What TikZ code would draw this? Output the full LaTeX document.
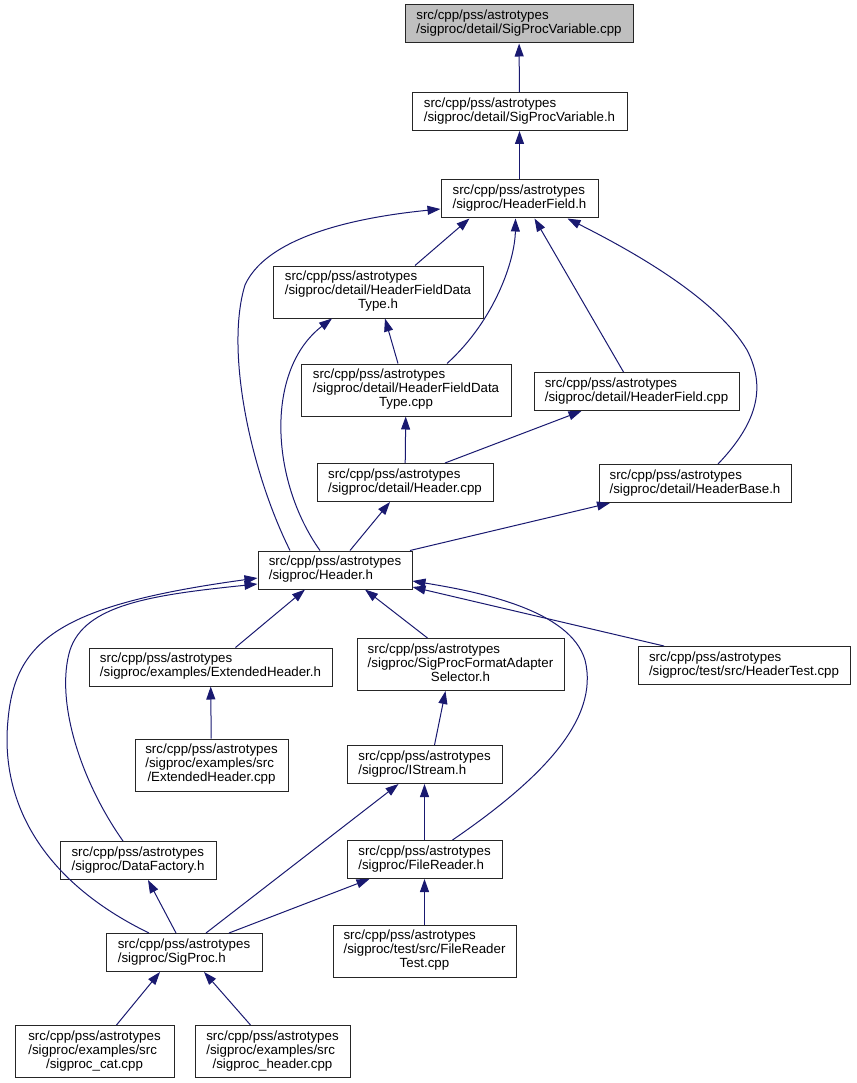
\documentclass[tikz,border=0pt]{standalone}
\usepackage{fontspec}
\setmainfont{Liberation Sans}
\usetikzlibrary{arrows.meta}
\definecolor{edgeblue}{HTML}{191970}
\definecolor{rootgray}{HTML}{BFBFBF}
\newcommand{\fpath}[1]{\begin{tabular}{@{}l@{}}#1\end{tabular}}
\newcommand{\lastln}[1]{\multicolumn{1}{@{}c@{}}{#1}}

\begin{document}
\begin{tikzpicture}[x=1pt,y=-1pt,
  filebox/.style={draw=black!85,line width=1pt,fill=white,inner sep=0pt,
    minimum height=38,font=\fontsize{13.3}{14}\selectfont},
  tall/.style={minimum height=52},
  incl/.style={draw=edgeblue,line width=1pt,-{Triangle[length=13pt,width=9pt]}}]
  \useasboundingbox (0,0) rectangle (856,1083);

  \node[filebox,fill=rootgray,minimum width=228] (n0) at (519,24)
    {\fpath{src/cpp/pss/astrotypes\\/sigproc/detail/SigProcVariable.cpp}};
  \node[filebox,minimum width=215] (n1) at (519.5,111.5)
    {\fpath{src/cpp/pss/astrotypes\\/sigproc/detail/SigProcVariable.h}};
  \node[filebox,minimum width=157] (n2) at (519.5,199)
    {\fpath{src/cpp/pss/astrotypes\\/sigproc/HeaderField.h}};
  \node[filebox,tall,minimum width=210] (n3) at (378,292)
    {\fpath{src/cpp/pss/astrotypes\\/sigproc/detail/HeaderFieldData\\\lastln{Type.h}}};
  \node[filebox,tall,minimum width=210] (n4) at (406,390)
    {\fpath{src/cpp/pss/astrotypes\\/sigproc/detail/HeaderFieldData\\\lastln{Type.cpp}}};
  \node[filebox,minimum width=205] (n5) at (636.5,391.5)
    {\fpath{src/cpp/pss/astrotypes\\/sigproc/detail/HeaderField.cpp}};
  \node[filebox,minimum width=176] (n6) at (405,482.5)
    {\fpath{src/cpp/pss/astrotypes\\/sigproc/detail/Header.cpp}};
  \node[filebox,minimum width=192] (n7) at (695,483.5)
    {\fpath{src/cpp/pss/astrotypes\\/sigproc/detail/HeaderBase.h}};
  \node[filebox,minimum width=154] (n8) at (335,570)
    {\fpath{src/cpp/pss/astrotypes\\/sigproc/Header.h}};
  \node[filebox,minimum width=243] (n9) at (210.5,667)
    {\fpath{src/cpp/pss/astrotypes\\/sigproc/examples/ExtendedHeader.h}};
  \node[filebox,tall,minimum width=207] (n10) at (460.5,664.5)
    {\fpath{src/cpp/pss/astrotypes\\/sigproc/SigProcFormatAdapter\\\lastln{Selector.h}}};
  \node[filebox,minimum width=212] (n11) at (744,665.5)
    {\fpath{src/cpp/pss/astrotypes\\/sigproc/test/src/HeaderTest.cpp}};
  \node[filebox,tall,minimum width=153] (n12) at (211.5,765)
    {\fpath{src/cpp/pss/astrotypes\\/sigproc/examples/src\\\lastln{/ExtendedHeader.cpp}}};
  \node[filebox,minimum width=155] (n13) at (424.5,764.5)
    {\fpath{src/cpp/pss/astrotypes\\/sigproc/IStream.h}};
  \node[filebox,minimum width=156] (n14) at (138,860.5)
    {\fpath{src/cpp/pss/astrotypes\\/sigproc/DataFactory.h}};
  \node[filebox,minimum width=155] (n15) at (424.5,859.5)
    {\fpath{src/cpp/pss/astrotypes\\/sigproc/FileReader.h}};
  \node[filebox,minimum width=156] (n16) at (184,952.5)
    {\fpath{src/cpp/pss/astrotypes\\/sigproc/SigProc.h}};
  \node[filebox,tall,minimum width=183] (n17) at (424.5,951)
    {\fpath{src/cpp/pss/astrotypes\\/sigproc/test/src/FileReader\\\lastln{Test.cpp}}};
  \node[filebox,tall,minimum width=159] (n18) at (94.5,1051.5)
    {\fpath{src/cpp/pss/astrotypes\\/sigproc/examples/src\\\lastln{/sigproc\_cat.cpp}}};
  \node[filebox,tall,minimum width=155] (n19) at (272.5,1051.5)
    {\fpath{src/cpp/pss/astrotypes\\/sigproc/examples/src\\\lastln{/sigproc\_header.cpp}}};

  \draw[incl] (n1) -- (n0);
  \draw[incl] (n2) -- (n1);
  \draw[incl] ([xshift=37]n3.north) -- ([xshift=-50]n2.south);
  \draw[incl] ([xshift=41]n4.north) .. controls (495,320) and (515,260) .. ([xshift=-4]n2.south);
  \draw[incl] ([xshift=-13]n5.north) -- ([xshift=15]n2.south);
  \draw[incl] ([xshift=23]n7.north) .. controls (760,420) and (765,385) .. (747,350)
    .. controls (717,300) and (640,255) .. ([xshift=48]n2.south);
  \draw[incl] ([xshift=-45]n8.north) .. controls (250,470) and (225,350) .. (245,285)
    .. controls (270,230) and (380,215) .. ([yshift=-10pt]n2.west);
  \draw[incl] ([xshift=-8]n4.north) -- ([xshift=7]n3.south);
  \draw[incl] ([xshift=-15]n8.north) .. controls (270,480) and (265,370) .. ([xshift=-46]n3.south);
  \draw[incl] (n6) -- (n4);
  \draw[incl] ([xshift=40]n6.north) -- ([xshift=-55]n5.south);
  \draw[incl] ([xshift=15]n8.north) -- ([xshift=-15]n6.south);
  \draw[incl] ([xshift=75]n8.north) -- ([xshift=-85]n7.south);
  \draw[incl] ([xshift=25]n9.north) -- ([xshift=-30]n8.south);
  \draw[incl] ([xshift=-33]n10.north) -- ([xshift=30]n8.south);
  \draw[incl] ([xshift=-80]n11.north) -- ([yshift=-17pt]n8.east);
  \draw[incl] ([xshift=28]n15.north) .. controls (540,780) and (600,720) .. (585,660)
    .. controls (570,610) and (480,592) .. ([yshift=-11pt]n8.east);
  \draw[incl] ([xshift=-15]n14.north) .. controls (80,780) and (55,700) .. (70,650)
    .. controls (85,605) and (150,595) .. ([yshift=-14pt]n8.west);
  \draw[incl] ([xshift=-35]n16.north) .. controls (40,880) and (0,800) .. (8,720)
    .. controls (15,640) and (60,605) .. ([yshift=-8pt]n8.west);
  \draw[incl] (n12) -- (n9);
  \draw[incl] ([xshift=10]n13.north) -- ([xshift=-15]n10.south);
  \draw[incl] (n15) -- (n13);
  \draw[incl] ([xshift=22]n16.north) -- ([xshift=-26]n13.south);
  \draw[incl] (n17) -- (n15);
  \draw[incl] ([xshift=-8]n16.north) -- ([xshift=10]n14.south);
  \draw[incl] ([xshift=45]n16.north) -- ([xshift=-55]n15.south);
  \draw[incl] ([xshift=22]n18.north) -- ([xshift=-24]n16.south);
  \draw[incl] ([xshift=-22]n19.north) -- ([xshift=20]n16.south);
\end{tikzpicture}
\end{document}
